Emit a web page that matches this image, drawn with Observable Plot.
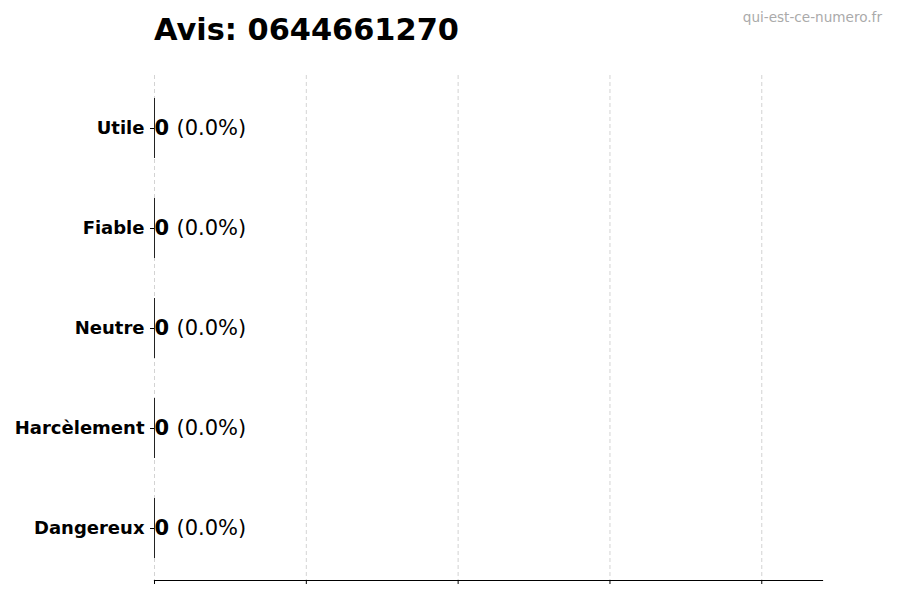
<!DOCTYPE html>
<html>
<head>
<meta charset="utf-8">
<script src="https://cdn.jsdelivr.net/npm/d3@7"></script>
<script src="https://cdn.jsdelivr.net/npm/@observablehq/plot@0.6"></script>
<style>
  body { margin: 0; background: #fff; font-family: "DejaVu Sans", sans-serif; }
  #wrap { width: 900px; position: relative; }
  #header { height: 60px; position: relative; }
  #title { position: absolute; left: 154px; top: 15px; font-size: 30.4px; line-height: 30.4px; font-weight: bold; color: #000; white-space: nowrap; }
  #mark { position: absolute; right: 18px; top: 10.5px; font-size: 13.6px; line-height: 13.6px; color: #aaaaaa; white-space: nowrap; }
  svg { display: block; }
</style>
</head>
<body>
<div id="wrap">
  <div id="header">
    <div id="title">Avis: 0644661270</div>
    <div id="mark">qui-est-ce-numero.fr</div>
  </div>
  <div id="chart"></div>
</div>
<script>
const categories = ["Utile", "Fiable", "Neutre", "Harcèlement", "Dangereux"];
const counts = [0, 0, 0, 0, 0];
const percents = [0.0, 0.0, 0.0, 0.0, 0.0];
const xTicks = [0, 1, 2, 3, 4];
const xMax = 4.4;

const data = categories.map((c, i) => ({cat: c, value: counts[i], pct: percents[i]}));

const chart = Plot.plot({
  width: 900,
  height: 540,
  marginTop: 15,
  marginBottom: 20,
  marginLeft: 154,
  marginRight: 78,
  style: {fontFamily: "DejaVu Sans, sans-serif", color: "#000", background: "#fff"},
  x: {domain: [0, xMax]},
  y: {domain: categories, type: "band", paddingInner: 0.4, paddingOuter: 0.225},
  marks: [
    Plot.gridX(xTicks, {stroke: "#b0b0b0", strokeOpacity: 0.7, strokeDasharray: "4,3", strokeWidth: 0.8}),
    Plot.axisX(xTicks, {tickSize: 4, tickFormat: () => "", label: null, stroke: "#000", strokeWidth: 1}),
    Plot.frame({anchor: "bottom", stroke: "#000", strokeWidth: 1.2}),
    Plot.axisY({tickSize: 4, tickPadding: 6, label: null, fontSize: 18, fontWeight: "bold", stroke: "#000"}),
    Plot.barX(data, {x: "value", y: "cat", fill: "#4c72b0"}),
    Plot.tickX(data, {x: "value", y: "cat", stroke: "#222", strokeWidth: 1}),
    Plot.text(data, {x: "value", y: "cat", text: d => String(d.value), textAnchor: "start", fontSize: 21, fontWeight: "bold", fill: "#000"}),
    Plot.text(data, {x: "value", y: "cat", text: d => `(${d.pct.toFixed(1)}%)`, textAnchor: "start", dx: 22, fontSize: 21, fill: "#000"})
  ]
});
document.getElementById("chart").appendChild(chart);
</script>
</body>
</html>
